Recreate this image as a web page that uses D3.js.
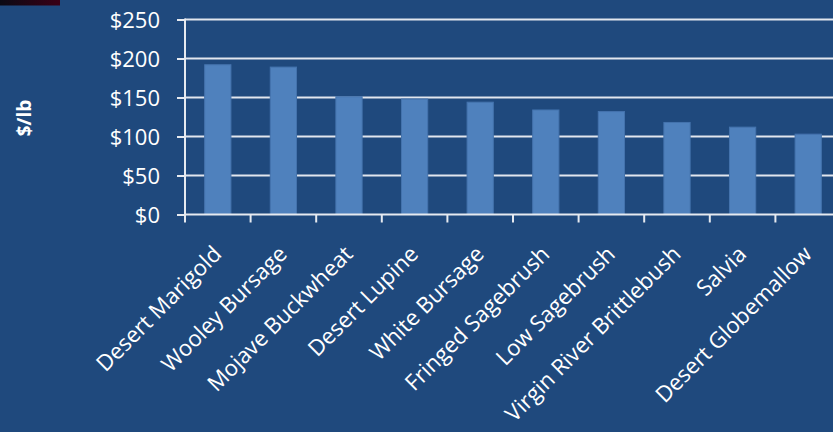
<!DOCTYPE html>
<html>
<head>
<meta charset="utf-8">
<script src="https://cdn.jsdelivr.net/npm/d3@7"></script>
<style>
  html, body { margin: 0; padding: 0; background: #1F497D; }
  svg { display: block; }
</style>
</head>
<body>
<svg id="chart" width="833" height="432"></svg>
<script>
const categories = ["Desert Marigold", "Wooley Bursage", "Mojave Buckwheat", "Desert Lupine", "White Bursage",
  "Fringed Sagebrush", "Low Sagebrush", "Virgin River Brittlebush", "Salvia", "Desert Globemallow"];
const pricePerLb = [192, 189, 151, 148, 144, 134, 132, 118, 112, 103];
const yTicks = [0, 50, 100, 150, 200, 250];
const yTitle = "$/lb";

(function () {
const W = 833, H = 432;
const svg = d3.select("#chart");
const font = "'Open Sans', 'DejaVu Sans', sans-serif";

svg.append("rect").attr("width", W).attr("height", H).attr("fill", "#1F497D");

// dark corner strip at top-left
const defs = svg.append("defs");
const grad = defs.append("linearGradient").attr("id", "corner").attr("x1", 0).attr("x2", 1);
grad.append("stop").attr("offset", 0).attr("stop-color", "#0b0a14");
grad.append("stop").attr("offset", 1).attr("stop-color", "#3a0016");
svg.append("rect").attr("x", 0).attr("y", 0).attr("width", 60).attr("height", 5.5).attr("fill", "url(#corner)");

const plotLeft = 185, plotTop = 19.5, plotBottom = 214.5;
const step = 65.6;
const x = d3.scaleBand().domain(categories).range([plotLeft, plotLeft + step * categories.length]).paddingInner(0.6).paddingOuter(0.3);
const y = d3.scaleLinear().domain([0, 250]).range([plotBottom, plotTop]);

// gridlines
svg.append("g").selectAll("line").data(yTicks.filter(d => d > 0)).join("line")
  .attr("x1", plotLeft).attr("x2", W)
  .attr("y1", d => y(d)).attr("y2", d => y(d))
  .attr("stroke", "#E1E6EE").attr("stroke-width", 2);

// bars
svg.append("g").selectAll("rect").data(pricePerLb).join("rect")
  .attr("x", (d, i) => x(categories[i]))
  .attr("width", x.bandwidth())
  .attr("y", d => y(d))
  .attr("height", d => y(0) - y(d))
  .attr("fill", "#4F81BD")
  .attr("stroke", "#4473AD").attr("stroke-width", 1);

// y axis
const yAxis = d3.axisLeft(y).tickValues(yTicks).tickSize(8).tickFormat(d => "$" + d);
const gy = svg.append("g").attr("transform", `translate(${plotLeft},0)`).call(yAxis);
gy.select(".domain").remove();
gy.selectAll(".tick line").attr("stroke", "#E6EAF0").attr("stroke-width", 2);
gy.selectAll(".tick text").attr("x", -25).attr("dy", "0.35em")
  .attr("fill", "#FFFFFF").style("font-family", font).style("font-size", "22px");
svg.append("line").attr("x1", plotLeft).attr("x2", plotLeft).attr("y1", plotTop - 1).attr("y2", plotBottom + 8)
  .attr("stroke", "#E6EAF0").attr("stroke-width", 2);

// x axis
svg.append("line").attr("x1", plotLeft).attr("x2", W).attr("y1", plotBottom).attr("y2", plotBottom)
  .attr("stroke", "#E6EAF0").attr("stroke-width", 2);
const boundaries = d3.range(1, categories.length + 1).map(i => plotLeft + step * i);
svg.append("g").selectAll("line").data(boundaries).join("line")
  .attr("x1", d => d).attr("x2", d => d).attr("y1", plotBottom).attr("y2", plotBottom + 8)
  .attr("stroke", "#E6EAF0").attr("stroke-width", 2);

// category labels
svg.append("g").selectAll("text").data(categories).join("text")
  .attr("transform", d => `translate(${x(d) + x.bandwidth() / 2 + 5},${plotBottom + 41}) rotate(-45)`)
  .attr("text-anchor", "end")
  .attr("fill", "#FFFFFF").style("font-family", font).style("font-size", "22.2px")
  .text(d => d);

// y title
svg.append("text")
  .attr("transform", `translate(31,118) rotate(-90)`)
  .attr("text-anchor", "middle")
  .attr("fill", "#FFFFFF").style("font-family", font).style("font-size", "19px").style("font-weight", "bold")
  .text(yTitle);
})();
</script>
</body>
</html>
